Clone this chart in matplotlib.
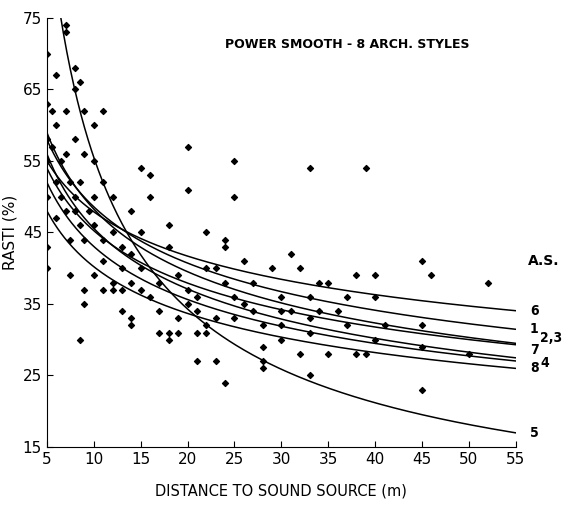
import matplotlib.pyplot as plt
import numpy as np

# power-law fits y = a * x**b, one per architectural style
STYLES = ["6", "1", "2", "3", "7", "4", "8", "5"]
COEF_A = [75.9, 87.4, 93.9, 81.4, 90.3, 80.7, 72.5, 275.0]
COEF_B = [-0.20, -0.255, -0.289, -0.255, -0.297, -0.273, -0.256, -0.695]

PTS_X = [5, 5, 5, 5, 5, 5, 5, 5.5, 5.5, 6, 6, 6, 6, 6.5, 6.5, 7, 7, 7, 7, 7, 7.5, 7.5, 7.5,
         8, 8, 8, 8, 8, 8.5, 8.5, 8.5, 8.5, 9, 9, 9, 9, 9, 9.5, 10, 10, 10, 10, 10,
         11, 11, 11, 11, 11, 12, 12, 12, 12, 13, 13, 13, 13, 14, 14, 14, 14, 14,
         15, 15, 15, 15, 16, 16, 16, 17, 17, 17, 18, 18, 18, 18, 19, 19, 19,
         20, 20, 20, 20, 21, 21, 21, 21, 22, 22, 22, 22, 23, 23, 23, 24, 24, 24, 24,
         25, 25, 25, 25, 26, 26, 27, 27, 28, 28, 28, 28, 29, 30, 30, 30, 30, 31, 31,
         32, 32, 33, 33, 33, 33, 33, 34, 34, 35, 35, 36, 37, 37, 38, 38, 39, 39,
         40, 40, 40, 41, 45, 45, 45, 45, 46, 50, 52]
PTS_Y = [70, 63, 58, 55, 50, 43, 40, 62, 57, 67, 60, 52, 47, 55, 50, 74, 73, 62, 56, 48, 52, 44, 39,
         68, 65, 58, 50, 48, 66, 52, 46, 30, 62, 56, 44, 37, 35, 48, 60, 55, 50, 46, 39,
         62, 52, 44, 41, 37, 50, 45, 38, 37, 43, 40, 34, 37, 48, 42, 38, 33, 32,
         54, 45, 40, 37, 53, 50, 36, 38, 34, 31, 43, 31, 30, 46, 39, 33, 31,
         57, 51, 37, 35, 36, 34, 27, 31, 45, 40, 32, 31, 27, 33, 40, 44, 43, 38, 24,
         55, 50, 36, 33, 41, 35, 38, 34, 32, 29, 27, 26, 40, 36, 32, 30, 34, 42, 34,
         28, 40, 54, 36, 33, 31, 25, 38, 34, 38, 28, 34, 36, 32, 39, 28, 54, 28,
         39, 36, 30, 32, 41, 32, 29, 23, 39, 28, 38]

LABELS = ["6", "1", "2,3", "7", "4", "8", "5"]
LABEL_X = [56.5, 56.5, 57.6, 56.5, 57.6, 56.5, 56.5]
LABEL_Y = [34.0, 31.5, 30.2, 28.5, 26.8, 26.0, 17.0]

fig = plt.figure(figsize=(5.65, 5.12), dpi=100)
ax = fig.add_axes([0.083, 0.127, 0.83, 0.838])

xs = np.linspace(5, 55, 400)
for a, b in zip(COEF_A, COEF_B):
    ax.plot(xs, a * xs ** b, color="black", lw=1.1)
ax.scatter(PTS_X, PTS_Y, s=9, color="black", marker="D", zorder=3)

ax.set_xlim(5, 55)
ax.set_ylim(15, 75)
ax.set_xticks(range(5, 56, 5))
ax.set_yticks(range(15, 76, 10))
ax.tick_params(direction="in", length=4, labelsize=11)
for s in ["top", "right"]:
    ax.spines[s].set_visible(False)
ax.set_xlabel("DISTANCE TO SOUND SOURCE (m)", fontsize=10.5, labelpad=12)
ax.set_ylabel("RASTI (%)", fontsize=11)
ax.text(0.38, 0.93, "POWER SMOOTH - 8 ARCH. STYLES", transform=ax.transAxes,
        fontsize=9, fontweight="bold")
ax.text(56.3, 40.5, "A.S.", fontsize=10, fontweight="bold", clip_on=False)
for lab, lx, ly in zip(LABELS, LABEL_X, LABEL_Y):
    ax.text(lx, ly, lab, fontsize=10, fontweight="bold", va="center",
            fontstretch="condensed", clip_on=False)

fig.savefig("out.png")
